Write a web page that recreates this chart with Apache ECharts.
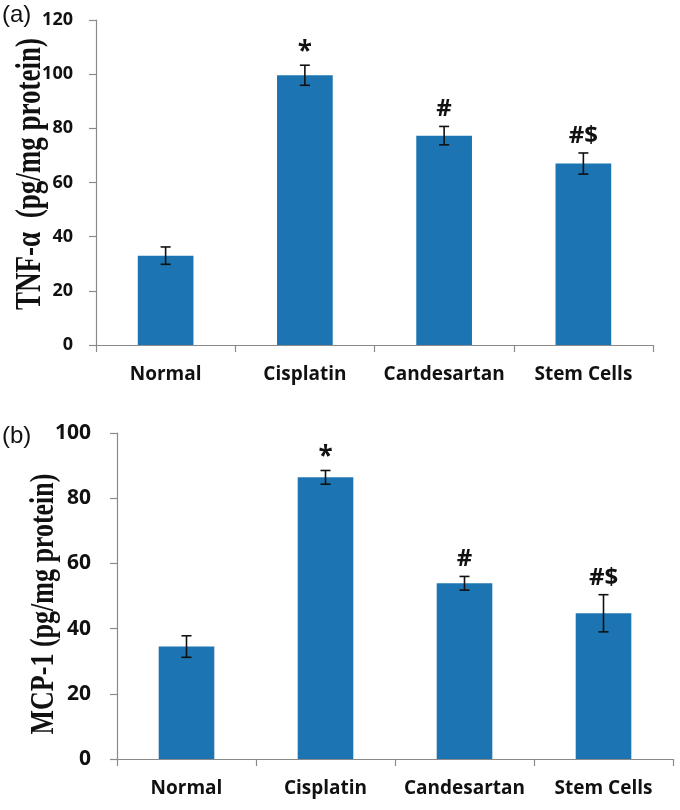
<!DOCTYPE html>
<html>
<head>
<meta charset="utf-8">
<script src="https://cdn.jsdelivr.net/npm/echarts@6/dist/echarts.min.js"></script>
<style>
html,body{margin:0;padding:0;background:#fff;}
#chart{width:680px;height:810px;}
</style>
</head>
<body>
<div id="chart"></div>
<script>
var categories = ['Normal', 'Cisplatin', 'Candesartan', 'Stem Cells'];
var tnfMeans = [33, 99.6, 77.3, 67];
var tnfErrors = [3.2, 3.7, 3.4, 3.9];
var tnfNotes = ['', '*', '#', '#$'];
var mcpMeans = [34.5, 86.4, 53.9, 44.7];
var mcpErrors = [3.3, 2.1, 2.1, 5.7];
var mcpNotes = ['', '*', '#', '#$'];
var tnfTicks = {min: 0, max: 120, interval: 20};
var mcpTicks = {min: 0, max: 100, interval: 20};

var barColor = '#1c74b2';
var axisGray = '#8a8a8a';
var labelFont = '"Open Sans", sans-serif';

function errRender(notes) {
  return function (params, api) {
    var idx = api.value(0);
    var m = api.value(1), e = api.value(2);
    var top = api.coord([idx, m + e]);
    var bot = api.coord([idx, m - e]);
    var x = top[0];
    var cap = 5;
    var note = notes[params.dataIndex];
    var children = [
      {type: 'line', shape: {x1: x, y1: top[1], x2: x, y2: bot[1]}, style: {stroke: '#111', lineWidth: 1.6}},
      {type: 'line', shape: {x1: x - cap, y1: top[1], x2: x + cap, y2: top[1]}, style: {stroke: '#111', lineWidth: 1.6}},
      {type: 'line', shape: {x1: x - cap, y1: bot[1], x2: x + cap, y2: bot[1]}, style: {stroke: '#111', lineWidth: 1.6}}
    ];
    if (note) {
      var star = note === '*';
      children.push({
        type: 'text',
        style: {
          text: note, x: x, y: top[1] - (star ? 13 : 17),
          align: 'center', verticalAlign: 'middle',
          font: 'bold ' + (star ? 26 : 24) + 'px ' + labelFont,
          fill: '#111'
        }
      });
    }
    return {type: 'group', children: children};
  };
}

function errData(means, errs) {
  return means.map(function (m, i) { return [i, m, errs[i]]; });
}

var grids = [
  {left: 96, width: 557, top: 20, height: 325},
  {left: 117, width: 556, top: 433, height: 326}
];

function xAxisFor(gi) {
  return {
    type: 'category', gridIndex: gi, data: categories,
    axisLine: {lineStyle: {color: axisGray, width: 1.2}},
    axisTick: {show: true, length: 7, lineStyle: {color: axisGray, width: 1.2}},
    axisLabel: {interval: 0, color: '#111', fontFamily: labelFont, fontWeight: 'bold', fontSize: 19, margin: 20}
  };
}
function yAxisFor(gi, ticks, fs, margin) {
  return {
    type: 'value', gridIndex: gi, min: ticks.min, max: ticks.max, interval: ticks.interval,
    splitLine: {show: false},
    axisLine: {show: true, lineStyle: {color: axisGray, width: 1.2}},
    axisTick: {show: true, length: 7, lineStyle: {color: axisGray, width: 1.2}},
    axisLabel: {color: '#111', fontFamily: labelFont, fontWeight: 'bold', fontSize: fs, margin: margin}
  };
}

var option = {
  backgroundColor: '#ffffff',
  animation: false,
  grid: grids,
  xAxis: [xAxisFor(0), xAxisFor(1)],
  yAxis: [yAxisFor(0, tnfTicks, 18, 23), yAxisFor(1, mcpTicks, 21, 26)],
  series: [
    {type: 'bar', xAxisIndex: 0, yAxisIndex: 0, data: tnfMeans, barWidth: '40%', itemStyle: {color: barColor}},
    {type: 'custom', xAxisIndex: 0, yAxisIndex: 0, data: errData(tnfMeans, tnfErrors), renderItem: errRender(tnfNotes), z: 5},
    {type: 'bar', xAxisIndex: 1, yAxisIndex: 1, data: mcpMeans, barWidth: '40%', itemStyle: {color: barColor}},
    {type: 'custom', xAxisIndex: 1, yAxisIndex: 1, data: errData(mcpMeans, mcpErrors), renderItem: errRender(mcpNotes), z: 5}
  ],
  graphic: [
    {type: 'text', left: 2, top: 3, style: {text: '(a)', font: '24px "Liberation Sans", Arial, sans-serif', fill: '#111'}},
    {type: 'text', left: 2, top: 424, style: {text: '(b)', font: '24px "Liberation Sans", Arial, sans-serif', fill: '#111'}},
    {type: 'text', x: 31, y: 174, rotation: Math.PI / 2, scaleY: 1.3,
      style: {text: 'TNF-\u03b1  (pg/mg protein)', align: 'center', verticalAlign: 'middle',
        font: 'bold 27px "Liberation Serif", "Times New Roman", serif', fill: '#111'}},
    {type: 'text', x: 44, y: 604, rotation: Math.PI / 2, scaleY: 1.3,
      style: {text: 'MCP-1 (pg/mg protein)', align: 'center', verticalAlign: 'middle',
        font: 'bold 26px "Liberation Serif", "Times New Roman", serif', fill: '#111'}}
  ]
};

var chart = echarts.init(document.getElementById('chart'), null, {renderer: 'canvas'});
chart.setOption(option);
</script>
</body>
</html>
